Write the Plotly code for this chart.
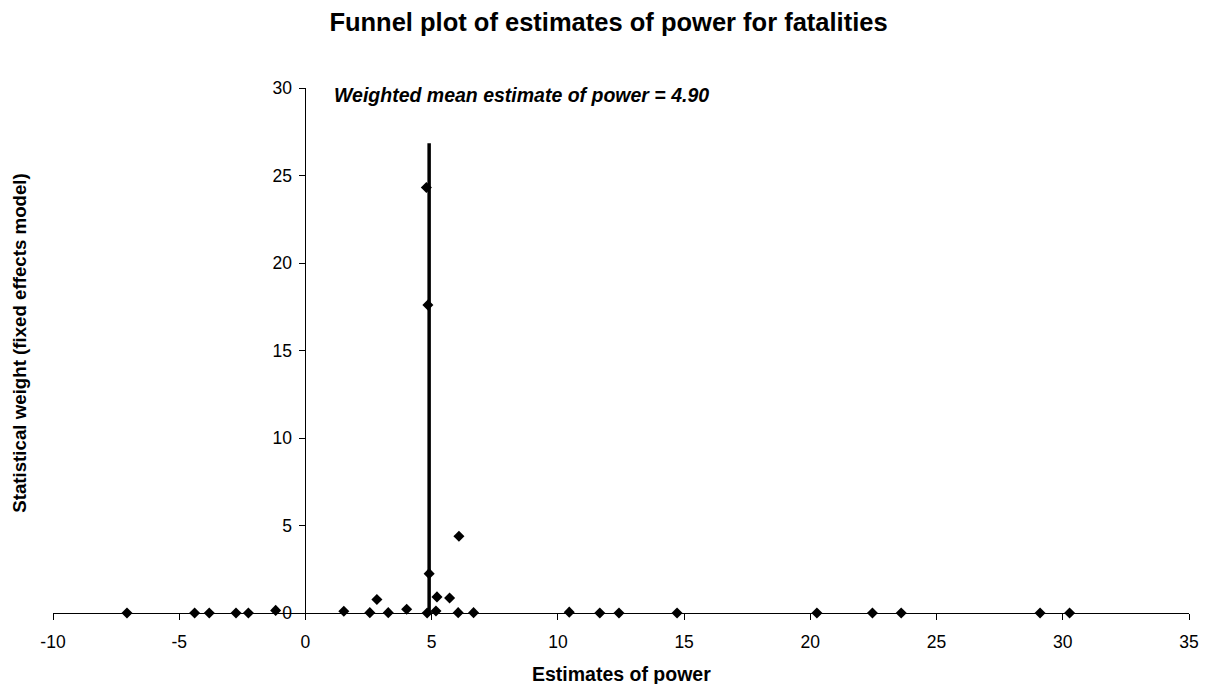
import plotly.graph_objects as go

estimates = [-7.07, -4.39, -3.81, -2.75, -2.26, -1.18, 1.52, 2.55, 2.83, 3.28,
             4.01, 4.82, 4.79, 4.85, 4.90, 5.17, 5.21, 5.71, 6.05, 6.08,
             6.66, 10.45, 11.66, 12.42, 14.72, 20.26, 22.46, 23.60, 29.10, 30.27]
weights = [0.0, 0.0, 0.0, 0.0, 0.0, 0.15, 0.10, 0.02, 0.77, 0.02,
           0.21, 0.0, 24.31, 17.60, 2.25, 0.11, 0.92, 0.86, 0.02, 4.39,
           0.02, 0.05, 0.0, 0.0, 0.0, 0.0, 0.0, 0.0, 0.0, 0.0]
mean_x = [4.90, 4.90]
mean_y = [0, 26.85]

x_ticks = [-10, -5, 0, 5, 10, 15, 20, 25, 30, 35]
x_labels = ["-10", "-5", "0", "5", "10", "15", "20", "25", "30", "35"]
y_ticks = [0, 5, 10, 15, 20, 25, 30]
y_labels = ["0", "5", "10", "15", "20", "25", "30"]

FONT = "Liberation Sans, Arial, sans-serif"
W, H = 1211, 684
ML, MR, MT, MB = 53, 13, 88, 71
PW, PH = W - ML - MR, H - MT - MB

fig = go.Figure()
fig.add_trace(go.Scatter(x=mean_x, y=mean_y, mode="lines",
                         line=dict(color="black", width=3.5), showlegend=False,
                         hoverinfo="skip"))
fig.add_trace(go.Scatter(x=estimates, y=weights, mode="markers",
                         marker=dict(symbol="diamond", size=8.5, color="black"),
                         cliponaxis=False, showlegend=False))

fig.update_layout(
    width=W, height=H, autosize=False,
    margin=dict(l=ML, r=MR, t=MT, b=MB),
    paper_bgcolor="white", plot_bgcolor="white",
    font=dict(family=FONT, color="black", size=17),
    title=dict(text="<b>Funnel plot of estimates of power for fatalities</b>",
               x=608.5 / W, xanchor="center", xref="container",
               y=1 - 22 / H, yanchor="middle", yref="container",
               font=dict(size=25.5, family=FONT)),
    xaxis=dict(range=[-10, 35], tickvals=x_ticks, ticktext=x_labels,
               showgrid=False, zeroline=False,
               showline=True, linecolor="black", linewidth=1,
               ticks="outside", ticklen=6, tickcolor="black",
               ticklabelstandoff=7,
               tickfont=dict(size=17.5)),
    yaxis=dict(range=[0, 30], tickvals=y_ticks, ticktext=y_labels,
               showgrid=False, zeroline=False,
               showline=True, linecolor="black", linewidth=1,
               ticks="outside", ticklen=6, tickcolor="black",
               ticklabelstandoff=4,
               tickfont=dict(size=17.5),
               anchor="free", position=10 / 45),
    annotations=[
        dict(text="<b><i>Weighted mean estimate of power = 4.90</i></b>",
             x=1.05, y=29.62, xref="x", yref="y", xanchor="left", yanchor="middle",
             showarrow=False, font=dict(size=19.5, family=FONT)),
        dict(text="<b>Statistical weight (fixed effects model)</b>",
             x=(18.5 - ML) / PW, y=(H - MB - 343) / PH, xref="paper", yref="paper",
             xanchor="center", yanchor="middle", showarrow=False,
             textangle=-90, font=dict(size=18.7, family=FONT)),
        dict(text="<b>Estimates of power</b>",
             x=(625.5 - ML) / PW, y=(H - MB - 673.5) / PH, xref="paper", yref="paper",
             xanchor="center", yanchor="middle", showarrow=False,
             font=dict(size=19.5, family=FONT)),
    ],
)

fig.write_html(
    "out.html",
    config={"displayModeBar": False, "responsive": False},
    post_script="document.body.style.margin='0';document.body.style.overflow='hidden';",
)
